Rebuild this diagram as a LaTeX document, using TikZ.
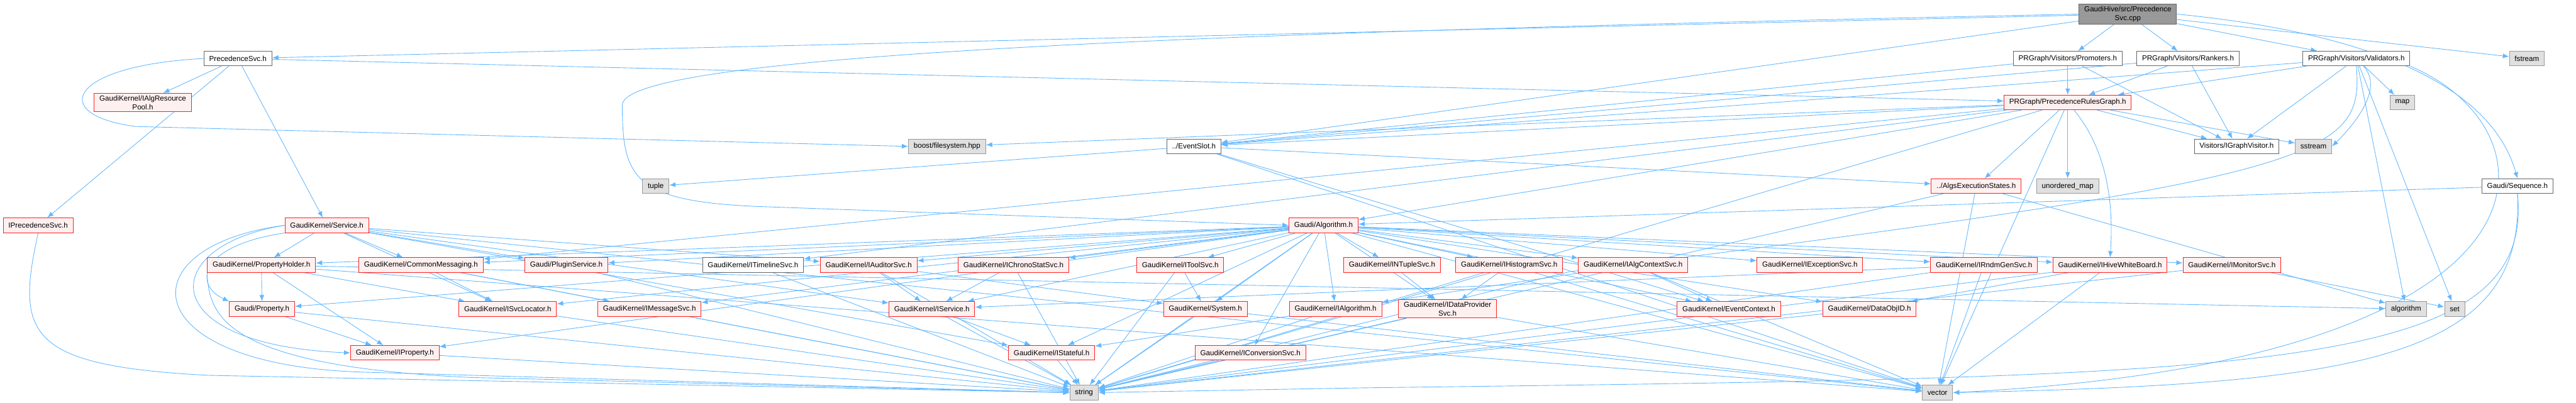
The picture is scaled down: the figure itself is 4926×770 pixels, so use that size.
\documentclass[tikz,border=0pt]{standalone}
\usepackage{fontspec}
\setmainfont{Liberation Sans}
\usetikzlibrary{arrows.meta}
\definecolor{edgeblue}{HTML}{63B8FF}
\definecolor{redline}{HTML}{FF2020}
\definecolor{redfill}{HTML}{FFF0F0}
\definecolor{grayfill}{HTML}{E0E0E0}
\definecolor{grayline}{HTML}{999999}
\definecolor{rootfill}{HTML}{999999}
\definecolor{darkline}{HTML}{666666}
\pgfdeclarelayer{edges}
\pgfsetlayers{edges,main}
\begin{document}
\begin{tikzpicture}[x=.75pt,y=-.75pt,
  box/.style={draw,line width=.9pt,minimum height=21pt,inner xsep=7.5pt,inner ysep=3pt,
    align=center,font=\fontsize{10.5}{12.5}\selectfont},
  hdr/.style={box,draw=redline,fill=redfill},
  plain/.style={box,draw=darkline,fill=white},
  sys/.style={box,draw=grayline,fill=grayfill},
  top/.style={box,draw=darkline,fill=rootfill},
  dep/.style={draw=edgeblue,line width=.8pt,-{Latex[length=9pt,width=7pt]}}]
\useasboundingbox (0,0) rectangle (4926,770);
% Le fichier source et ses inclusions directes.
\node[top] (root) at (4069,27) {GaudiHive/src/Precedence\\Svc.cpp};
\node[plain] (psvch) at (455,112) {PrecedenceSvc.h};
\node[plain] (prom) at (3954,112) {PRGraph/Visitors/Promoters.h};
\node[plain] (rank) at (4184,112) {PRGraph/Visitors/Rankers.h};
\node[plain] (vali) at (4506,112) {PRGraph/Visitors/Validators.h};
\node[sys] (fstr) at (4832,112) {fstream};
\node[hdr] (respool) at (273,196) {GaudiKernel/IAlgResource\\Pool.h};
\node[hdr] (prg) at (3954,196) {PRGraph/PrecedenceRulesGraph.h};
\node[sys] (map) at (4594,196) {map};
\node[sys] (boostfs) at (1811,280) {boost/filesystem.hpp};
\node[plain] (evslot) at (2283,280) {../EventSlot.h};
\node[plain] (igv) at (4277,280) {Visitors/IGraphVisitor.h};
\node[sys] (sstr) at (4424,280) {sstream};
\node[sys] (tuple) at (1254,356) {tuple};
\node[hdr] (aes) at (3779,356) {../AlgsExecutionStates.h};
\node[sys] (umap) at (3954,356) {unordered\_map};
\node[plain] (seq) at (4814,356) {Gaudi/Sequence.h};
% Les en-tetes de GaudiKernel.
\node[hdr] (iprec) at (73,431) {IPrecedenceSvc.h};
\node[hdr] (service) at (625,431) {GaudiKernel/Service.h};
\node[hdr] (galg) at (2531,431) {Gaudi/Algorithm.h};
\node[hdr] (propholder) at (500,507) {GaudiKernel/PropertyHolder.h};
\node[hdr] (commsg) at (805,507) {GaudiKernel/CommonMessaging.h};
\node[hdr] (plugin) at (1083,507) {Gaudi/PluginService.h};
\node[plain] (timeline) at (1440,507) {GaudiKernel/ITimelineSvc.h};
\node[hdr] (iaud) at (1661,507) {GaudiKernel/IAuditorSvc.h};
\node[hdr] (ichrono) at (1938,507) {GaudiKernel/IChronoStatSvc.h};
\node[hdr] (itool) at (2257,507) {GaudiKernel/IToolSvc.h};
\node[hdr] (intuple) at (2662,507) {GaudiKernel/INTupleSvc.h};
\node[hdr] (ihist) at (2886,507) {GaudiKernel/IHistogramSvc.h};
\node[hdr] (ictx) at (3123,507) {GaudiKernel/IAlgContextSvc.h};
\node[hdr] (iexc) at (3461,507) {GaudiKernel/IExceptionSvc.h};
\node[hdr] (irndm) at (3794,507) {GaudiKernel/IRndmGenSvc.h};
\node[hdr] (iwb) at (4035,507) {GaudiKernel/IHiveWhiteBoard.h};
\node[hdr] (imon) at (4268,507) {GaudiKernel/IMonitorSvc.h};
\node[hdr] (prop) at (501,591) {Gaudi/Property.h};
\node[hdr] (isvcloc) at (971,591) {GaudiKernel/ISvcLocator.h};
\node[hdr] (imsg) at (1242,591) {GaudiKernel/IMessageSvc.h};
\node[hdr] (iservice) at (1782,591) {GaudiKernel/IService.h};
\node[hdr] (system) at (2305,591) {GaudiKernel/System.h};
\node[hdr] (ialg) at (2554,591) {GaudiKernel/IAlgorithm.h};
\node[hdr] (idp) at (2768,591) {GaudiKernel/IDataProvider\\Svc.h};
\node[hdr] (evctx) at (3306,591) {GaudiKernel/EventContext.h};
\node[hdr] (dobj) at (3575,591) {GaudiKernel/DataObjID.h};
\node[sys] (algo) at (4601,591) {algorithm};
\node[sys] (set) at (4694,591) {set};
\node[hdr] (iprop) at (755,675) {GaudiKernel/IProperty.h};
\node[hdr] (istate) at (2011,675) {GaudiKernel/IStateful.h};
\node[hdr] (iconv) at (2391,675) {GaudiKernel/IConversionSvc.h};
\node[sys] (string) at (2073,751) {string};
\node[sys] (vector) at (3705,751) {vector};
\begin{pgfonlayer}{edges}
% Inclusions du fichier source.
\draw[dep] (root) -- (psvch);
\draw[dep] (root) -- (prom);
\draw[dep] (root) -- (rank);
\draw[dep] (root) -- (vali);
\draw[dep] (root) -- (fstr);
\draw[dep] (root.east) .. controls (4500,60) and (4760,150) .. (seq.north);
\draw[dep] (root) -- (evslot);
\draw[dep] (root.west) .. controls (2400,60) and (1200,100) .. (1190,200)
      .. controls (1190,340) and (1210,385) .. (1450,395) -- (galg.west);
% PrecedenceSvc.h et IPrecedenceSvc.h.
\draw[dep] (psvch) -- (respool);
\draw[dep] (psvch) -- (iprec);
\draw[dep] (psvch) -- (service);
\draw[dep] (psvch) -- (prg);
\draw[dep] (psvch.west) .. controls (130,125) and (90,220) .. (260,242) -- (boostfs.west);
\draw[dep] (iprec.south) .. controls (30,640) and (50,700) .. (400,718) -- (string.west);
% Les visiteurs du graphe.
\draw[dep] (prom) -- (prg);
\draw[dep] (prom) -- (igv);
\draw[dep] (prom) -- (evslot);
\draw[dep] (rank) -- (prg);
\draw[dep] (rank) -- (igv);
\draw[dep] (rank) -- (evslot);
\draw[dep] (vali) -- (prg);
\draw[dep] (vali) -- (igv);
\draw[dep] (vali) -- (map);
\draw[dep] (vali) .. controls (4560,170) and (4500,240) .. (sstr.east);
\draw[dep] (vali) -- (algo);
\draw[dep] (vali) -- (set);
\draw[dep] (vali) -- (evslot);
\draw[dep] (vali.south) .. controls (4520,300) and (4450,340) .. (3000,520) -- (string);
\draw[dep] (vali.south east) .. controls (4900,250) and (4930,690) .. (vector.east);
% PrecedenceRulesGraph.h.
\draw[dep] (prg) -- (aes);
\draw[dep] (prg) -- (umap);
\draw[dep] (prg) -- (evslot);
\draw[dep] (prg) -- (boostfs);
\draw[dep] (prg) -- (galg);
\draw[dep] (prg) -- (igv);
\draw[dep] (prg) -- (sstr);
\draw[dep] (prg) .. controls (4040,300) and (4040,420) .. (iwb.north);
\draw[dep] (prg) -- (timeline);
\draw[dep] (prg) -- (commsg);
\draw[dep] (prg) -- (vector);
\draw[dep] (prg) -- (string);
% AlgsExecutionStates.h et EventSlot.h.
\draw[dep] (aes) -- (string);
\draw[dep] (aes) -- (vector);
\draw[dep] (aes) -- (algo);
\draw[dep] (evslot) -- (aes);
\draw[dep] (evslot) -- (tuple);
\draw[dep] (evslot) -- (evctx);
\draw[dep] (evslot) -- (vector);
\draw[dep] (seq) -- (galg);
\draw[dep] (seq.south) .. controls (4830,690) and (4500,735) .. (vector.east);
\draw[dep] (seq.south) .. controls (4850,720) and (4300,720) .. (2600,742) -- (string.east);
% Service.h.
\draw[dep] (service) -- (propholder);
\draw[dep] (service) -- (commsg);
\draw[dep] (service.south west) .. controls (380,470) and (370,545) .. (prop.north west);
\draw[dep] (service.west) .. controls (300,470) and (290,660) .. (iprop.west);
\draw[dep] (service) -- (isvcloc);
\draw[dep] (service) -- (iservice);
\draw[dep] (service) -- (istate);
\draw[dep] (service) -- (iaud);
\draw[dep] (service) -- (plugin);
\draw[dep] (service.west) .. controls (240,470) and (250,700) .. (700,712) -- (string.west);
\draw[dep] (service) -- (vector);
% PropertyHolder.h, CommonMessaging.h, Property.h.
\draw[dep] (propholder) -- (prop);
\draw[dep] (propholder) -- (iprop);
\draw[dep] (propholder.south west) .. controls (400,600) and (420,700) .. (900,722) -- (string.west);
\draw[dep] (propholder) -- (algo);
\draw[dep] (propholder) -- (vector);
\draw[dep] (propholder) -- (isvcloc);
\draw[dep] (commsg) -- (isvcloc);
\draw[dep] (commsg) -- (imsg);
\draw[dep] (commsg) -- (string);
\draw[dep] (prop) -- (iprop);
\draw[dep] (prop) -- (string);
\draw[dep] (iprop) -- (string);
\draw[dep] (plugin) -- (string);
\draw[dep] (timeline) -- (string);
\draw[dep] (isvcloc) -- (string);
\draw[dep] (imsg) -- (string);
% Les interfaces de services.
\draw[dep] (iaud) -- (iservice);
\draw[dep] (iaud) -- (system);
\draw[dep] (iaud) -- (string);
\draw[dep] (ichrono) -- (iservice);
\draw[dep] (ichrono) -- (string);
\draw[dep] (itool) -- (system);
\draw[dep] (itool) -- (string);
\draw[dep] (iservice) -- (istate);
\draw[dep] (iservice) -- (string);
\draw[dep] (system) -- (string);
\draw[dep] (system) -- (vector);
\draw[dep] (istate) -- (string);
\draw[dep] (iconv) -- (string);
\draw[dep] (ialg) -- (istate);
\draw[dep] (ialg) -- (string);
\draw[dep] (idp) -- (string);
\draw[dep] (idp) -- (vector);
\draw[dep] (intuple) -- (idp);
\draw[dep] (ihist) -- (idp);
\draw[dep] (ihist) -- (string);
\draw[dep] (ihist) -- (vector);
\draw[dep] (ictx) -- (ialg);
\draw[dep] (ictx) -- (evctx);
\draw[dep] (ictx) -- (vector);
\draw[dep] (irndm) -- (iservice);
\draw[dep] (irndm) -- (string);
\draw[dep] (irndm) -- (vector);
\draw[dep] (iwb) -- (dobj);
\draw[dep] (iwb) -- (string);
\draw[dep] (iwb) -- (vector);
\draw[dep] (imon) -- (set);
\draw[dep] (imon) -- (string);
\draw[dep] (dobj) -- (string);
% Gaudi/Algorithm.h.
\draw[dep] (galg) -- (propholder);
\draw[dep] (galg) -- (commsg);
\draw[dep] (galg) -- (plugin);
\draw[dep] (galg) -- (iaud);
\draw[dep] (galg) -- (ichrono);
\draw[dep] (galg) -- (itool);
\draw[dep] (galg) -- (intuple);
\draw[dep] (galg) -- (ihist);
\draw[dep] (galg) -- (ictx);
\draw[dep] (galg) -- (iexc);
\draw[dep] (galg) -- (irndm);
\draw[dep] (galg) -- (iwb);
\draw[dep] (galg) -- (imon);
\draw[dep] (galg) -- (prop);
\draw[dep] (galg) -- (isvcloc);
\draw[dep] (galg) -- (imsg);
\draw[dep] (galg) -- (iservice);
\draw[dep] (galg) -- (system);
\draw[dep] (galg) -- (ialg);
\draw[dep] (galg) -- (idp);
\draw[dep] (galg) -- (evctx);
\draw[dep] (galg) -- (dobj);
\draw[dep] (galg) -- (iprop);
\draw[dep] (galg) -- (istate);
\draw[dep] (galg) -- (iconv);
\draw[dep] (galg) -- (string);
\draw[dep] (galg) -- (vector);
\end{pgfonlayer}
\end{tikzpicture}
\end{document}
